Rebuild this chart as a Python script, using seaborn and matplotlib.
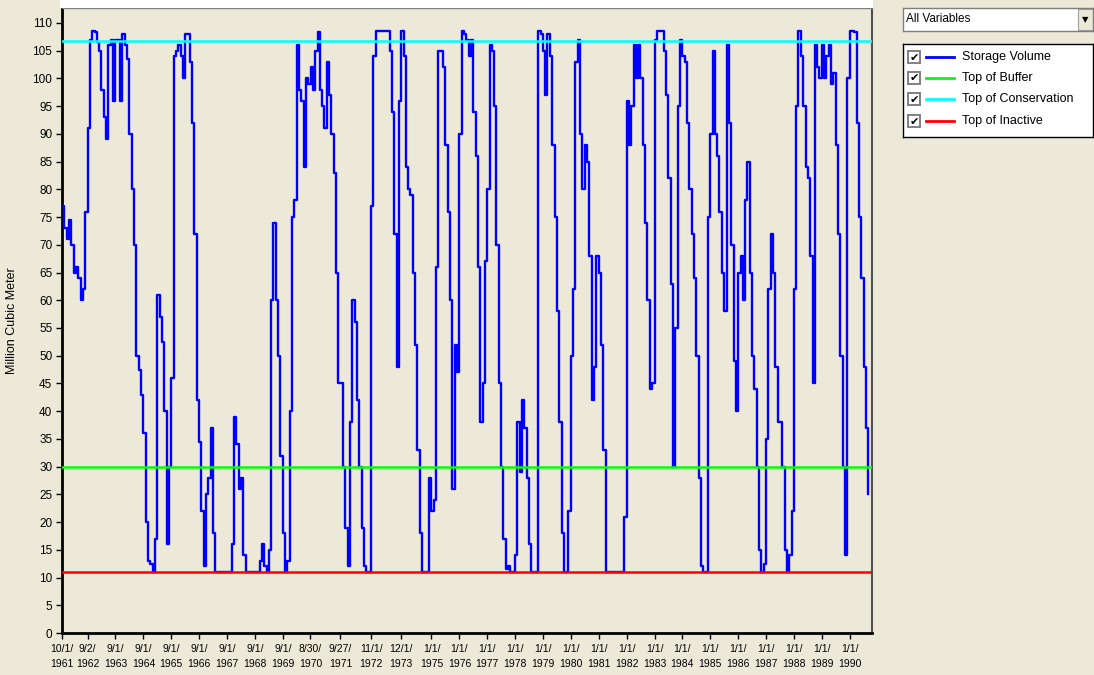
import numpy as np
import pandas as pd
import matplotlib
matplotlib.use("Agg")
import matplotlib.pyplot as plt
from matplotlib.patches import Rectangle
import seaborn as sns

# ---------------- data (monthly storage, Million Cubic Meter) ----------------
start_date = "1961-10-01"
storage_wy1962_1969 = [
    77, 73, 71, 74.5, 70, 65, 66, 64, 60, 62, 76, 91,
    107, 108.5, 108.3, 106.5, 105, 98, 93, 89, 106, 107, 96, 107,
    107, 96, 108, 106, 103.5, 90, 80, 70, 50, 47.5, 43, 36,
    20, 13, 12.5, 11, 17, 61, 57, 52.5, 40, 16, 30, 46,
    104, 105, 106, 104, 100, 108, 108, 103, 92, 72, 42, 34.5,
    22, 12, 25, 28, 37, 18, 11, 11, 11, 11, 11, 11,
    11, 16, 39, 34, 26, 28, 14, 11, 11, 11, 11, 11,
    11, 13, 16, 12, 11, 15, 60, 74, 60, 50, 32, 18,
]
storage_wy1970_1977 = [
    11, 13, 40, 75, 78, 106, 98, 96, 84, 100, 99, 102,
    98, 105, 108.3, 98, 95, 91, 103, 97, 90, 83, 65, 45,
    45, 30, 19, 12, 38, 60, 56, 42, 30, 19, 12, 11,
    11, 77, 104, 108.5, 108.5, 108.5, 108.5, 108.5, 108.5, 105, 94, 72,
    48, 96, 108.5, 104, 84, 80, 79, 65, 52, 33, 18, 11,
    11, 11, 28, 22, 24, 66, 105, 105, 102, 88, 76, 60,
    26, 52, 47, 90, 108.5, 108, 107, 104, 107, 94, 86, 66,
    38, 45, 67, 80, 106, 105, 95, 70, 45, 30, 17, 11.5,
]
storage_wy1978_1985 = [
    12, 11, 11, 14, 38, 29, 42, 37, 28, 16, 11, 11,
    11, 108.5, 108, 105, 97, 108, 104, 88, 75, 58, 38, 18,
    11, 11, 22, 50, 62, 103, 107, 90, 80, 88, 85, 68,
    42, 48, 68, 65, 52, 33, 11, 11, 11, 11, 11, 11,
    11, 11, 21, 96, 88, 95, 106, 100, 106, 100, 88, 74,
    60, 44, 45, 107, 108.5, 108.5, 108.5, 105, 97, 82, 63, 30,
    55, 95, 107, 104, 103, 92, 80, 72, 64, 50, 28, 12,
    11, 11, 75, 90, 105, 90, 86, 76, 65, 58, 106, 92,
]
storage_wy1986_1990 = [
    70, 49, 40, 65, 68, 60, 78, 85, 65, 50, 44, 30,
    15, 11, 12.5, 35, 62, 72, 65, 48, 38, 38, 30, 15,
    11, 14, 22, 62, 95, 108.5, 104, 95, 84, 82, 68, 45,
    106, 102, 100, 106, 100, 104, 106, 99, 101, 88, 72, 50,
    30, 14, 100, 108.5, 108.5, 108.3, 92, 75, 64, 48, 37, 25,
]
storage_volume = (storage_wy1962_1969 + storage_wy1970_1977
                  + storage_wy1978_1985 + storage_wy1986_1990)

top_of_conservation = 106.8
top_of_buffer = 30.0
top_of_inactive = 11.0

tick_dates = ["1961-10-01", "1962-09-02", "1963-09-01", "1964-09-01", "1965-09-01",
              "1966-09-01", "1967-09-01", "1968-09-01", "1969-09-01", "1970-08-30",
              "1971-09-27", "1972-11-01", "1973-12-01", "1975-01-01", "1976-01-01",
              "1977-01-01", "1978-01-01", "1979-01-01", "1980-01-01", "1981-01-01",
              "1982-01-01", "1983-01-01", "1984-01-01", "1985-01-01", "1986-01-01",
              "1987-01-01", "1988-01-01", "1989-01-01", "1990-01-01"]
y_ticks = list(range(0, 111, 5))
legend_labels = ["Storage Volume", "Top of Buffer", "Top of Conservation", "Top of Inactive"]
legend_colors = ["#0000FF", "#00FF00", "#00FFFF", "#FF0000"]

# ---------------- build frames ----------------
dates = pd.date_range(start_date, periods=len(storage_volume), freq="MS")
df = pd.DataFrame({"date": dates, "storage": storage_volume})
x_end = pd.Timestamp("1990-10-20")
ref_x = [dates[0], x_end]
ref_df = pd.DataFrame({
    "date": ref_x * 3,
    "value": [top_of_buffer] * 2 + [top_of_conservation] * 2 + [top_of_inactive] * 2,
    "series": ["Top of Buffer"] * 2 + ["Top of Conservation"] * 2 + ["Top of Inactive"] * 2,
})

# ---------------- figure ----------------
bg = "#ECE9D8"
W, H = 1094, 675
fig = plt.figure(figsize=(W / 100, H / 100), dpi=100, facecolor=bg)
plt.rcParams["font.family"] = ["Liberation Sans", "DejaVu Sans"]

# white strip above plot area
fig.patches.append(Rectangle((60 / W, 1 - 8 / H), (873 - 60) / W, 8 / H,
                             transform=fig.transFigure, facecolor="white",
                             edgecolor="none", zorder=0))

ax = fig.add_axes([62 / W, 1 - 633 / H, (872 - 62) / W, (633 - 8) / H])
ax.set_facecolor(bg)

sns.lineplot(data=df, x="date", y="storage", ax=ax, color="#0000FF",
             linewidth=1.7, drawstyle="steps-post", zorder=3, legend=False)
sns.lineplot(data=ref_df, x="date", y="value", hue="series", ax=ax,
             palette={"Top of Buffer": "#00FF00", "Top of Conservation": "#00FFFF",
                      "Top of Inactive": "#FF0000"},
             linewidth=1.8, zorder=4, legend=False)

ax.set_xlim(dates[0], x_end)
ax.set_ylim(0, 112.7)
ax.set_yticks(y_ticks)
ax.set_yticklabels([str(v) for v in y_ticks], fontsize=8.5)
tick_ts = pd.to_datetime(tick_dates)
ax.set_xticks(tick_ts)
ax.set_xticklabels([f"{t.month}/{t.day}/\n{t.year}" for t in tick_ts],
                   fontsize=7.5, linespacing=1.6)
ax.tick_params(axis="y", direction="out", length=4, width=1, pad=3, colors="black")
ax.tick_params(axis="x", direction="out", length=4, width=1, pad=4, colors="black")
ax.set_xlabel("")
ax.set_ylabel("Million Cubic Meter", fontsize=9)
ax.yaxis.set_label_coords(-(62 - 18) / 810, 0.5)
ax.grid(False)
for side in ["left", "bottom"]:
    ax.spines[side].set_color("black")
    ax.spines[side].set_linewidth(2)
ax.spines["right"].set_color("#505050")
ax.spines["right"].set_linewidth(1.5)
ax.spines["top"].set_color("#808080")
ax.spines["top"].set_linewidth(1)

# ---------------- dropdown ----------------
dd = fig.add_axes([903 / W, 1 - 31 / H, (1093 - 903) / W, 23 / H])
dd.set_xlim(0, 190); dd.set_ylim(0, 23)
dd.set_facecolor("white")
dd.set_xticks([]); dd.set_yticks([])
for s in dd.spines.values():
    s.set_color("#7F7F7F"); s.set_linewidth(1)
dd.text(3, 11.5, "All Variables", fontsize=8.5, va="center", ha="left")
dd.add_patch(Rectangle((175, 1), 15, 21, facecolor=bg, edgecolor="#A0A0A0", lw=0.8))
dd.text(182.5, 11, "\u25BC", fontsize=6, va="center", ha="center", family="DejaVu Sans")

# ---------------- legend panel ----------------
lg = fig.add_axes([903 / W, 1 - 137 / H, (1093 - 903) / W, (137 - 44) / H])
lg.set_xlim(0, 190); lg.set_ylim(93, 0)
lg.set_facecolor("white")
lg.set_xticks([]); lg.set_yticks([])
for s in lg.spines.values():
    s.set_color("black"); s.set_linewidth(1)
rows = [13, 34, 55, 77]
for yy, lab, col in zip(rows, legend_labels, legend_colors):
    lg.add_patch(Rectangle((5, yy - 6), 12, 12, facecolor="white",
                           edgecolor="#808080", lw=1.4))
    lg.text(11, yy + 0.5, "\u2714", fontsize=8, ha="center", va="center",
            family="DejaVu Sans", color="black")
    lg.plot([23, 51], [yy, yy], color=col, lw=2)
    lg.text(59, yy, lab, fontsize=9, va="center", ha="left")

fig.savefig("out.png", dpi=100, facecolor=bg)
